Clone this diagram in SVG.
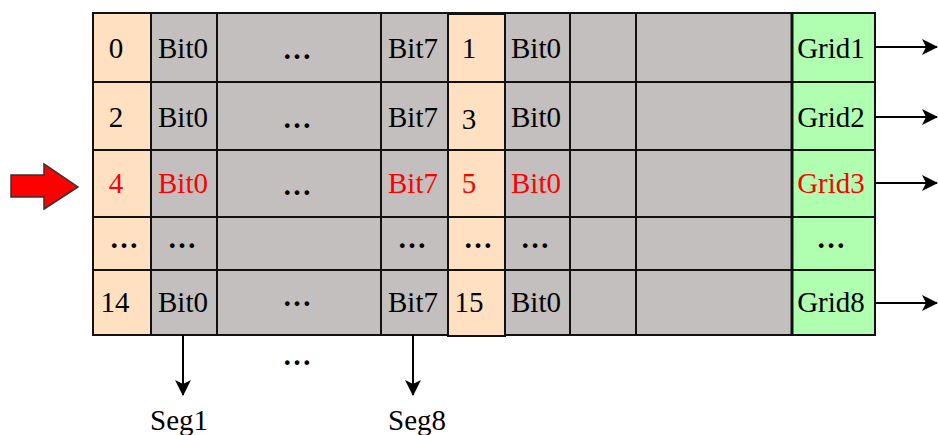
<svg xmlns="http://www.w3.org/2000/svg" width="938" height="435" viewBox="0 0 938 435">
<defs>
<style>
text{font-family:"Liberation Serif","Times New Roman",serif;font-size:29px;fill:#000;text-anchor:middle}
.red{fill:#FF0000}
.d{font-weight:bold}
.ln{stroke:#111;stroke-width:2;fill:none}
.conn{stroke:#000;stroke-width:2;fill:none}
.or{fill:#FFE0C0}
.gr{fill:#C3BFBE}
.gn{fill:#B0FFB0}
</style>
<marker id="ah" viewBox="0 0 16 16" refX="15" refY="8" markerWidth="16" markerHeight="16" markerUnits="userSpaceOnUse" orient="auto">
<path d="M0,0 L16,8 L0,16 L4,8 z" fill="#000"/>
</marker>
</defs>
<g id="table">
<rect class="gr" x="151" y="13" width="641" height="322"/>
<rect class="or" x="93" y="13" width="58" height="322"/>
<rect class="gn" x="792" y="13" width="83" height="322"/>
<rect class="ln" x="93" y="13" width="782" height="322"/>
<line class="ln" x1="93" y1="82" x2="875" y2="82"/>
<line class="ln" x1="93" y1="150" x2="875" y2="150"/>
<line class="ln" x1="93" y1="217" x2="875" y2="217"/>
<line class="ln" x1="93" y1="270" x2="875" y2="270"/>
<line class="ln" x1="151" y1="13" x2="151" y2="335"/>
<line class="ln" x1="217" y1="13" x2="217" y2="335"/>
<line class="ln" x1="381" y1="13" x2="381" y2="335"/>
<line class="ln" x1="570" y1="13" x2="570" y2="335"/>
<line class="ln" x1="636" y1="13" x2="636" y2="335"/>
<line x1="792" y1="13" x2="792" y2="335" stroke="#111" stroke-width="3"/>
</g>
<g id="col-odd">
<rect class="or" x="448" y="14" width="57" height="322" stroke="#111" stroke-width="2"/>
<line class="ln" x1="448" y1="82" x2="505" y2="82"/>
<line class="ln" x1="448" y1="150" x2="505" y2="150"/>
<line class="ln" x1="448" y1="217" x2="505" y2="217"/>
<line class="ln" x1="448" y1="270" x2="505" y2="270"/>
</g>
<g id="row1">
<text x="116" y="58">0</text><text x="183" y="58">Bit0</text><text class="d" x="297" y="59">…</text><text x="413" y="58">Bit7</text><text x="469" y="58">1</text><text x="536" y="58">Bit0</text><text x="831" y="58">Grid1</text>
</g>
<g id="row2">
<text x="116" y="127">2</text><text x="183" y="127">Bit0</text><text class="d" x="297" y="128">…</text><text x="413" y="127">Bit7</text><text x="469" y="129">3</text><text x="536" y="127">Bit0</text><text x="831" y="127">Grid2</text>
</g>
<g id="row3">
<text class="red" x="116" y="193">4</text><text class="red" x="183" y="193">Bit0</text><text class="d" x="297" y="195">…</text><text class="red" x="413" y="193">Bit7</text><text class="red" x="469" y="193">5</text><text class="red" x="536" y="193">Bit0</text><text class="red" x="831" y="193">Grid3</text>
</g>
<g id="row4">
<text class="d" x="124" y="248">…</text><text class="d" x="182" y="248">…</text><text class="d" x="412" y="248">…</text><text class="d" x="478" y="248">…</text><text class="d" x="535" y="248">…</text><text class="d" x="831" y="248">…</text>
</g>
<g id="row5">
<text x="115" y="312">14</text><text x="183" y="312">Bit0</text><text class="d" x="297" y="306">…</text><text x="413" y="312">Bit7</text><text x="469" y="312">15</text><text x="536" y="312">Bit0</text><text x="831" y="312">Grid8</text>
</g>
<g id="pointer">
<polygon points="11,175 44,175 44,164 78,187 44,209 44,197 11,197" fill="#FF0000" stroke="#333" stroke-width="1.5"/>
</g>
<g id="outputs">
<text x="179" y="430">Seg1</text>
<text x="417" y="430">Seg8</text>
<text class="d" x="297" y="365">…</text>
</g>
<g id="connectors">
<line class="conn" x1="875" y1="47" x2="937" y2="47" marker-end="url(#ah)"/>
<line class="conn" x1="875" y1="117" x2="937" y2="117" marker-end="url(#ah)"/>
<line class="conn" x1="875" y1="183" x2="937" y2="183" marker-end="url(#ah)"/>
<line class="conn" x1="875" y1="303" x2="937" y2="303" marker-end="url(#ah)"/>
<line class="conn" x1="183" y1="335" x2="183" y2="395" marker-end="url(#ah)"/>
<line class="conn" x1="413" y1="335" x2="413" y2="395" marker-end="url(#ah)"/>
</g>
</svg>
